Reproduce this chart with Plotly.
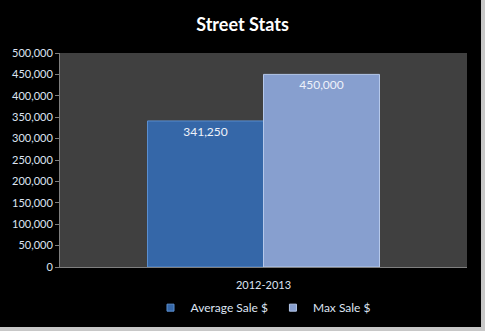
import plotly.graph_objects as go

categories = ["2012-2013"]
series_names = ["Average Sale $", "Max Sale $"]
values_avg = [341250]
values_max = [450000]
tick_vals = [0, 50000, 100000, 150000, 200000, 250000, 300000, 350000, 400000, 450000, 500000]
tick_text = ["0", "50,000", "100,000", "150,000", "200,000", "250,000", "300,000",
             "350,000", "400,000", "450,000", "500,000"]
colors = ["#3567a8", "#879fcf"]
edge_colors = ["#5b8fd0", "#b5c8ea"]

font_family = "Lato, 'Open Sans', sans-serif"

fig = go.Figure()
for name, vals, col, edge in zip(series_names, [values_avg, values_max], colors, edge_colors):
    fig.add_trace(go.Bar(
        x=categories, y=vals, name=name, showlegend=False,
        marker=dict(color=col, line=dict(color=edge, width=1)),
        text=[f"{v:,}" for v in vals], textposition="inside",
        insidetextanchor="end", textfont=dict(color="#eef2fa", size=12, family=font_family),
    ))
for name, col, edge in zip(series_names, colors, edge_colors):
    fig.add_trace(go.Scatter(
        x=[None], y=[None], mode="markers", name=name, showlegend=True,
        marker=dict(symbol="square", size=7, color=col, line=dict(color=edge, width=1)),
    ))

fig.update_layout(
    width=485, height=331,
    margin=dict(l=60, r=18, t=53, b=64, autoexpand=False),
    paper_bgcolor="#000000",
    plot_bgcolor="#404040",
    barmode="group",
    bargap=0.43,
    bargroupgap=0,
    title=dict(text="<b>Street Stats</b>", x=0.5, xanchor="center", y=0.925, yanchor="middle",
               font=dict(color="#ffffff", size=18, family=font_family)),
    font=dict(family=font_family, color="#dde4f2", size=11),
    showlegend=True,
    legend=dict(orientation="h", x=0.5, xanchor="center", y=-0.19, yanchor="middle",
                font=dict(color="#dde4f2", size=12), bgcolor="rgba(0,0,0,0)",
                itemwidth=30, tracegroupgap=0),
    xaxis=dict(showgrid=False, showline=True, linecolor="#7f7f7f", linewidth=1,
               automargin=False,
               ticks="", ticklabelstandoff=8, tickfont=dict(color="#dde4f2", size=11)),
    yaxis=dict(range=[0, 500000], tickvals=tick_vals, ticktext=tick_text,
               automargin=False,
               showgrid=False, showline=True, linecolor="#7f7f7f", linewidth=1,
               ticks="outside", ticklen=4, tickcolor="#7f7f7f",
               tickfont=dict(color="#dde4f2", size=11), zeroline=False),
    shapes=[
        dict(type="rect", xref="paper", yref="paper",
             x0=(481 - 60) / 407, x1=(486 - 60) / 407, y0=-1, y1=2,
             fillcolor="#c8c8c8", line=dict(width=0), layer="above"),
        dict(type="rect", xref="paper", yref="paper",
             x0=-1, x1=2, y0=(267 - 332) / 214, y1=(267 - 327) / 214,
             fillcolor="#c8c8c8", line=dict(width=0), layer="above"),
    ],
)

fig.write_html("out.html")
